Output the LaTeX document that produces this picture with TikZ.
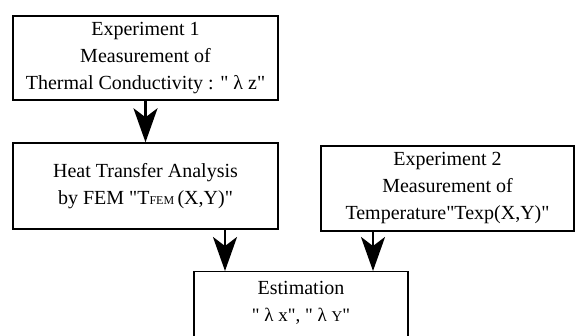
\documentclass[tikz,border=0pt]{standalone}
\usepackage{fontspec}
\newfontfamily\plainfont{Liberation Serif}
\usetikzlibrary{positioning, arrows.meta}

\begin{document}
\begin{tikzpicture}[x=1pt,y=1pt,>={Stealth[length=34pt,width=24pt,inset=9pt]},
  box/.style={draw,rectangle,line width=1.4pt,align=center,inner sep=0pt,font=\plainfont\fontsize{20}{27}\selectfont},
  flow/.style={->,line width=2.8pt}]
\useasboundingbox (0,0) rectangle (575,336);

\node[box, minimum width=265pt, minimum height=84pt] (Exp1) at (145.5,278)
  {Experiment 1\\Measurement of\\Thermal Conductivity : " λ z"};
\node[box, minimum width=265pt, minimum height=86pt] (FEM) at (145.5,150)
  {Heat Transfer Analysis\\by FEM "T{\fontsize{12}{12}\selectfont FEM}\,(X,Y)"};
\node[box, minimum width=253pt, minimum height=85pt] (Exp2) at (447.5,147.5)
  {Experiment 2\\Measurement of\\Temperature"Texp(X,Y)"};
\node[box, minimum width=214pt, anchor=north, inner ysep=10pt, text depth=30pt] (Est) at (301,65)
  {Estimation\\{\fontsize{19}{27}\selectfont" λ x", " λ {\fontsize{15}{15}\selectfont Y}"}};

\coordinate (aL) at (225,0);
\coordinate (aR) at (373,0);

\path[flow]
	(Exp1) edge (FEM)
	(FEM.south -| aL) edge (Est.north -| aL)
	(Exp2.south -| aR) edge (Est.north -| aR);
\end{tikzpicture}
\end{document}
